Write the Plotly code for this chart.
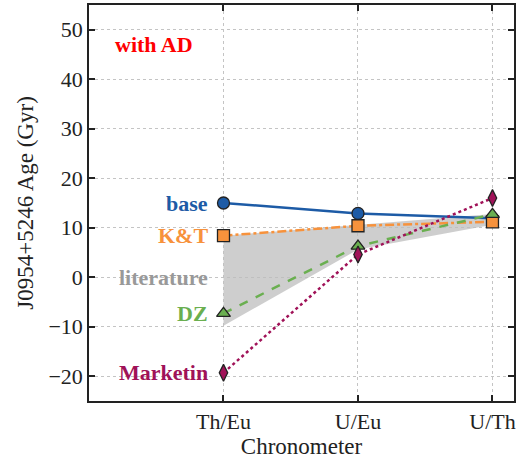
import plotly.graph_objects as go

chronometers = ["Th/Eu", "U/Eu", "U/Th"]
base = [15.0, 12.9, 11.9]
kt = [8.4, 10.4, 11.2]
dz = [-7.3, 6.3, 12.7]
marketin = [-19.3, 4.6, 16.0]
lit_upper = [8.4, 10.6, 12.8]
lit_lower = [-9.8, 5.6, 10.6]

xs = [0, 1, 2]
FONT = "Liberation Serif"
BLUE = "#1d5ba6"
ORANGE = "#f7923c"
GREEN = "#6aaf50"
MAROON = "#a01258"
GRAY = "#999999"
INK = "#222222"

fig = go.Figure()
fig.add_trace(go.Scatter(x=xs, y=lit_upper, mode="lines", line=dict(width=0), showlegend=False, hoverinfo="skip"))
fig.add_trace(go.Scatter(x=xs, y=lit_lower, mode="lines", line=dict(width=0), fill="tonexty",
                         fillcolor="rgba(190,190,190,0.75)", showlegend=False, hoverinfo="skip"))

def add(y, color, dash, symbol):
    fig.add_trace(go.Scatter(
        x=xs, y=y, mode="lines+markers",
        line=dict(color=color, width=2.5, dash=dash),
        marker=dict(symbol=symbol, size=12, color=color, line=dict(color=INK, width=1.3)),
        showlegend=False))

add(base, BLUE, "solid", "circle")
add(kt, ORANGE, "dashdot", "square")
add(dz, GREEN, "dash", "triangle-up")
add(marketin, MAROON, "dot", "diamond-tall")

labels = [("base", base[0], BLUE), ("K&T", kt[0], ORANGE), ("literature", 0.0, GRAY),
          ("DZ", dz[0], GREEN), ("Marketin", marketin[0], MAROON)]
for txt, yv, col in labels:
    fig.add_annotation(x=0, y=yv, text="<b>" + txt + "</b>", showarrow=False, xanchor="right",
                       yanchor="middle", xshift=-13, font=dict(family=FONT, size=22, color=col))

fig.add_annotation(x=-0.82, y=47, text="<b>with AD</b>", showarrow=False, xanchor="left",
                   yanchor="middle", font=dict(family=FONT, size=22, color="red"))

axis_common = dict(showline=True, linecolor=INK, linewidth=1.5, mirror="ticks",
                   ticks="inside", ticklen=6, tickwidth=1.5, tickcolor=INK,
                   showgrid=True, gridcolor="#c4c4c4", griddash="dot", gridwidth=1,
                   zeroline=False, automargin=False,
                   tickfont=dict(family=FONT, size=22, color=INK))

fig.update_xaxes(range=[-1, 2.16], tickvals=xs, ticktext=chronometers,
                 title=dict(text="Chronometer", font=dict(family=FONT, size=23, color=INK), standoff=2),
                 **axis_common)
fig.update_yaxes(range=[-25, 55], tickvals=[-20, -10, 0, 10, 20, 30, 40, 50],
                 title=dict(text="J0954+5246 Age (Gyr)", font=dict(family=FONT, size=23, color=INK), standoff=8),
                 **axis_common)

fig.update_layout(width=522, height=460, margin=dict(l=89, r=8, t=5, b=59),
                  plot_bgcolor="white", paper_bgcolor="white", showlegend=False)

fig.write_html("out.html", config={"displayModeBar": False},
               post_script="document.body.style.margin='0';document.body.style.overflow='hidden';")
